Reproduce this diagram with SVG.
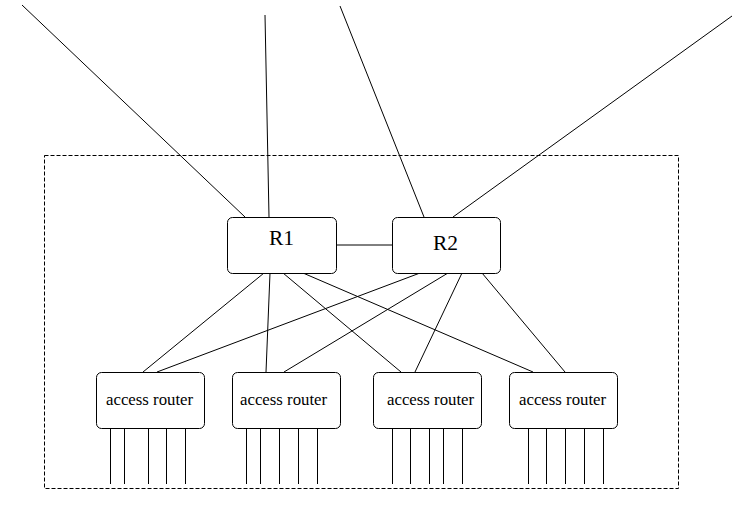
<svg xmlns="http://www.w3.org/2000/svg" width="734" height="519" viewBox="0 0 734 519">
  <style>
    .box { fill: #fff; stroke: #000; stroke-width: 1; }
    .edge { stroke: #000; stroke-width: 1; fill: none; }
    .frame { fill: none; stroke: #000; stroke-width: 1; stroke-dasharray: 4 2; }
    .big { font-family: "Liberation Serif", "Times New Roman", serif; font-size: 21.5px; fill: #000; }
    .small { font-family: "Liberation Serif", "Times New Roman", serif; font-size: 16.8px; fill: #000; }
  </style>
  <rect width="734" height="519" fill="#fff"/>

  <!-- site boundary -->
  <rect id="site" class="frame" x="44.5" y="155.5" width="634" height="333"/>

  <g id="connectors">
    <!-- uplinks -->
    <line class="edge" x1="22" y1="5" x2="245" y2="217"/>
    <line class="edge" x1="265" y1="15" x2="269" y2="217"/>
    <line class="edge" x1="340" y1="6" x2="424" y2="217"/>
    <line class="edge" x1="732" y1="16" x2="453" y2="217"/>
    <!-- core link -->
    <line class="edge" x1="336" y1="245" x2="392" y2="245"/>
    <!-- R1 downlinks -->
    <line class="edge" x1="264" y1="273" x2="143" y2="372"/>
    <line class="edge" x1="270" y1="273" x2="266" y2="372"/>
    <line class="edge" x1="283" y1="273" x2="401" y2="372"/>
    <line class="edge" x1="303" y1="273" x2="533" y2="372"/>
    <!-- R2 downlinks -->
    <line class="edge" x1="420" y1="273" x2="157" y2="372"/>
    <line class="edge" x1="448" y1="273" x2="284" y2="372"/>
    <line class="edge" x1="462" y1="273" x2="415" y2="372"/>
    <line class="edge" x1="482" y1="273" x2="565" y2="372"/>
    <!-- host drops -->
    <path class="edge" d="M110.5 428V484M124.5 428V484M148.5 428V484M166.5 428V484M185.5 428V484"/>
    <path class="edge" d="M246.5 428V484M260.5 428V484M279.5 428V484M298.5 428V484M317.5 428V484"/>
    <path class="edge" d="M392.5 428V484M410.5 428V484M429.5 428V484M443.5 428V484M462.5 428V484"/>
    <path class="edge" d="M528.5 428V484M546.5 428V484M565.5 428V484M584.5 428V484M603.5 428V484"/>
  </g>

  <g id="R1">
    <rect class="box" x="227.5" y="217.5" width="109" height="56" rx="5"/>
    <text class="big" x="269" y="245">R1</text>
  </g>
  <g id="R2">
    <rect class="box" x="392.5" y="217.5" width="108" height="56" rx="5"/>
    <text class="big" x="433" y="250">R2</text>
  </g>

  <g id="access1">
    <rect class="box" x="96.5" y="372.5" width="108" height="56" rx="5"/>
    <text class="small" x="106" y="405">access router</text>
  </g>
  <g id="access2">
    <rect class="box" x="232.5" y="372.5" width="108" height="56" rx="5"/>
    <text class="small" x="240" y="405">access router</text>
  </g>
  <g id="access3">
    <rect class="box" x="373.5" y="372.5" width="108" height="56" rx="5"/>
    <text class="small" x="387" y="405">access router</text>
  </g>
  <g id="access4">
    <rect class="box" x="509.5" y="372.5" width="108" height="56" rx="5"/>
    <text class="small" x="519" y="405">access router</text>
  </g>
</svg>
